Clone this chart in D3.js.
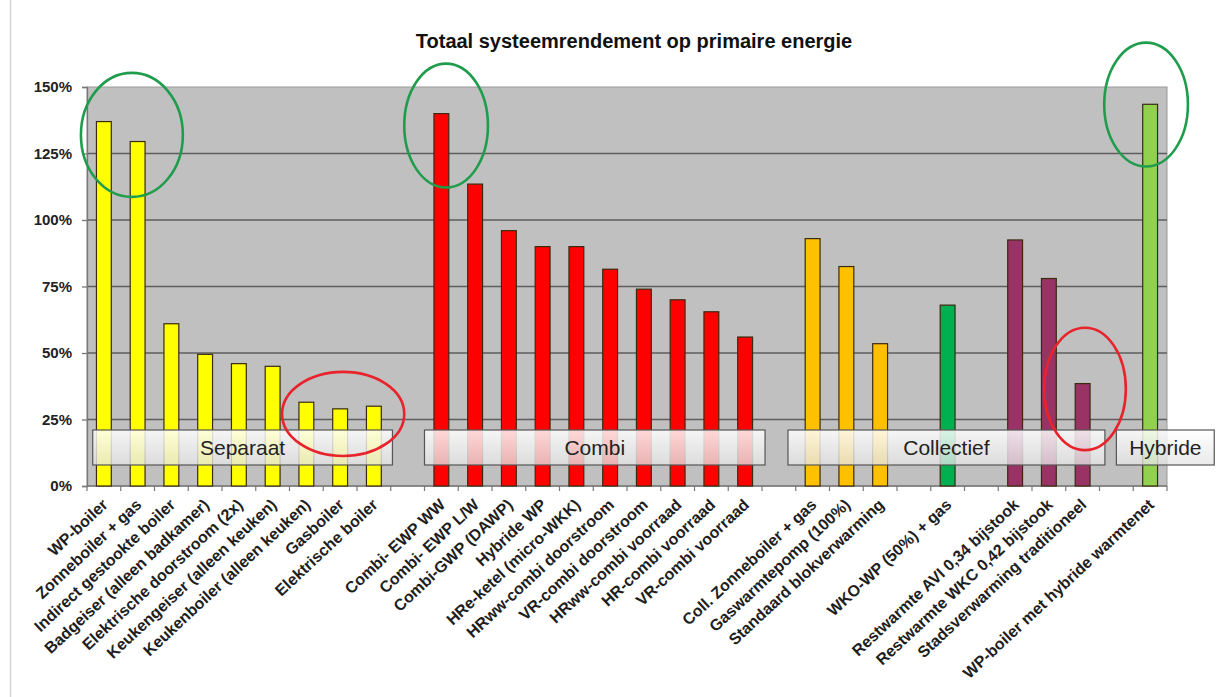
<!DOCTYPE html>
<html>
<head>
<meta charset="utf-8">
<script src="https://cdn.jsdelivr.net/npm/d3@7"></script>
<style>
  html, body { margin: 0; padding: 0; background: #ffffff; }
  svg { display: block; font-family: "Liberation Sans", Arial, sans-serif; }
</style>
</head>
<body>
<svg id="chart" width="1216" height="697"></svg>
<script>
// ---------- data ----------
const title = "Totaal systeemrendement op primaire energie";

const categories = [
  "WP-boiler", "Zonneboiler + gas", "Indirect gestookte boiler", "Badgeiser (alleen badkamer)",
  "Elektrische doorstroom (2x)", "Keukengeiser (alleen keuken)", "Keukenboiler (alleen keuken)",
  "Gasboiler", "Elektrische boiler",
  "",
  "Combi- EWP WW", "Combi- EWP L/W", "Combi-GWP (DAWP)", "Hybride WP", "HRe-ketel (micro-WKK)",
  "HRww-combi doorstroom", "VR-combi doorstroom", "HRww-combi voorraad", "HR-combi voorraad",
  "VR-combi voorraad",
  "",
  "Coll. Zonneboiler + gas", "Gaswarmtepomp (100%)", "Standaard blokverwarming",
  "",
  "WKO-WP (50%) + gas",
  "",
  "Restwarmte AVI 0,34 bijstook", "Restwarmte WKC 0,42 bijstook", "Stadsverwarming traditioneel",
  "",
  "WP-boiler met hybride warmtenet"
];

const values = [
  137, 129.5, 61, 49.5, 46, 45, 31.5, 29, 30,
  null,
  140, 113.5, 96, 90, 90, 81.5, 74, 70, 65.5, 56,
  null,
  93, 82.5, 53.5,
  null,
  68,
  null,
  92.5, 78, 38.5,
  null,
  143.5
];

const colorKeys = [
  "yellow","yellow","yellow","yellow","yellow","yellow","yellow","yellow","yellow",
  null,
  "red","red","red","red","red","red","red","red","red","red",
  null,
  "orange","orange","orange",
  null,
  "green",
  null,
  "purple","purple","purple",
  null,
  "lightgreen"
];
const palette = { yellow: "#FFFF00", red: "#FF0000", orange: "#FFC000", green: "#00B050", purple: "#993366", lightgreen: "#92D050" };

const yTicks = [0, 25, 50, 75, 100, 125, 150];

// group label boxes
const groupLabels = ["Separaat", "Combi", "Collectief", "Hybride"];

// hand-drawn annotation ellipses (centre in category slots / percent, radii likewise)
const ellipseColor = ["green", "green", "green", "red", "red"];
const ellipseCx = [1.33, 10.64, 31.38, 7.59, 29.57];
const ellipseCy = [132, 135.5, 143.4, 27.1, 36.5];
const ellipseRx = [1.51, 1.24, 1.24, 1.81, 1.21];
const ellipseRy = [23.3, 23.3, 23.3, 15.8, 23];

// ---------- layout ----------
const W = 1216, H = 697;
const plot = { left: 87, right: 1167, top: 87, bottom: 486 };
// box extents in category-slot units (layout of the hand-placed text boxes)
const boxStartSlot = [0.17, 10.0, 20.77, 30.5];
const boxEndSlot = [9.05, 20.09, 30.16, 33.4];

const svg = d3.select("#chart");

// faint left border line of the picture
svg.append("line").attr("x1", 10.5).attr("x2", 10.5).attr("y1", 0).attr("y2", H)
  .attr("stroke", "#d4d4d4").attr("stroke-width", 1.5);

const x = d3.scaleBand().domain(d3.range(categories.length)).range([plot.left, plot.right]).paddingInner(0.56).paddingOuter(0.28);
const xs = d3.scaleLinear().domain([0, categories.length]).range([plot.left, plot.right]);
const y = d3.scaleLinear().domain([0, 150]).range([plot.bottom, plot.top]);

// title
svg.append("text").attr("x", 634).attr("y", 48).attr("text-anchor", "middle")
  .attr("font-size", 20).attr("font-weight", "bold").attr("fill", "#111").text(title);

// plot background
svg.append("rect").attr("x", plot.left).attr("y", plot.top)
  .attr("width", plot.right - plot.left).attr("height", plot.bottom - plot.top)
  .attr("fill", "#C0C0C0").attr("stroke", "#9a9a9a").attr("stroke-width", 1);

// gridlines
svg.append("g").selectAll("line").data(yTicks.filter(d => d > 0 && d < 150)).join("line")
  .attr("x1", plot.left).attr("x2", plot.right)
  .attr("y1", d => y(d)).attr("y2", d => y(d))
  .attr("stroke", "#5e5e5e").attr("stroke-width", 1.3);

// y axis
const yAxis = d3.axisLeft(y).tickValues(yTicks).tickFormat(d => d + "%").tickSize(5).tickPadding(10);
const gy = svg.append("g").attr("transform", `translate(${plot.left},0)`).call(yAxis);
gy.select(".domain").attr("stroke", "#777").attr("stroke-width", 1.3);
gy.selectAll(".tick line").attr("stroke", "#777").attr("stroke-width", 1.3);
gy.selectAll(".tick text").attr("font-size", 15).attr("font-weight", "bold").attr("fill", "#222")
  .attr("font-family", "'Liberation Sans', Arial, sans-serif");

// x axis line + boundary ticks
const gx = svg.append("g");
gx.append("line").attr("x1", plot.left).attr("x2", plot.right).attr("y1", plot.bottom).attr("y2", plot.bottom)
  .attr("stroke", "#777").attr("stroke-width", 1.3);
gx.selectAll("line.tk").data(d3.range(categories.length + 1)).join("line").attr("class", "tk")
  .attr("x1", d => xs(d)).attr("x2", d => xs(d)).attr("y1", plot.bottom).attr("y2", plot.bottom + 5)
  .attr("stroke", "#777").attr("stroke-width", 1.2);

// bars
const barData = categories.map((c, i) => ({ c, i, v: values[i], k: colorKeys[i] })).filter(d => d.v != null);
svg.append("g").selectAll("rect").data(barData).join("rect")
  .attr("x", d => x(d.i)).attr("width", x.bandwidth())
  .attr("y", d => y(d.v)).attr("height", d => y(0) - y(d.v))
  .attr("fill", d => palette[d.k]).attr("stroke", "#3a2a10").attr("stroke-width", 1.2);

// x labels
svg.append("g").selectAll("text").data(barData).join("text")
  .attr("transform", d => `translate(${x(d.i) + x.bandwidth() / 2 + 5},${plot.bottom + 20}) rotate(-43)`)
  .attr("text-anchor", "end").attr("font-size", 16).attr("font-weight", "bold").attr("fill", "#1e1e1e")
  .text(d => d.c);

// group label boxes
const defs = svg.append("defs");
const grad = defs.append("linearGradient").attr("id", "boxGrad").attr("x1", 0).attr("y1", 0).attr("x2", 0).attr("y2", 1);
grad.append("stop").attr("offset", "0%").attr("stop-color", "#ffffff").attr("stop-opacity", 0.85);
grad.append("stop").attr("offset", "100%").attr("stop-color", "#e4e4e4").attr("stop-opacity", 0.78);

const boxes = groupLabels.map((g, i) => ({
  g, x0: xs(boxStartSlot[i]), x1: Math.min(W - 1, xs(boxEndSlot[i]))
}));
const gb = svg.append("g");
gb.selectAll("rect").data(boxes).join("rect")
  .attr("x", d => d.x0).attr("y", plot.bottom - 56).attr("width", d => d.x1 - d.x0).attr("height", 35)
  .attr("fill", "url(#boxGrad)").attr("stroke", "#555").attr("stroke-width", 1.2);
gb.selectAll("text").data(boxes).join("text")
  .attr("x", d => (d.x0 + d.x1) / 2).attr("y", plot.bottom - 31).attr("text-anchor", "middle")
  .attr("font-size", 21).attr("fill", "#222").text(d => d.g);

// annotation ellipses
svg.append("g").selectAll("ellipse").data(ellipseCx.map((c, i) => i)).join("ellipse")
  .attr("cx", i => xs(ellipseCx[i])).attr("cy", i => y(ellipseCy[i]))
  .attr("rx", i => xs(ellipseRx[i]) - xs(0)).attr("ry", i => y(0) - y(ellipseRy[i]))
  .attr("fill", "none")
  .attr("stroke", i => ellipseColor[i] === "green" ? "#1f9d4c" : "#e8232b")
  .attr("stroke-width", 2.6);
</script>
</body>
</html>
